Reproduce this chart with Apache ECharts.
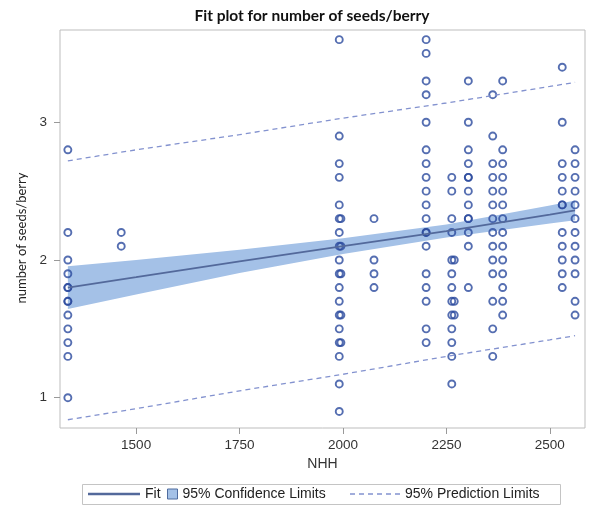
<!DOCTYPE html>
<html>
<head>
<meta charset="utf-8">
<title>Fit plot for number of seeds/berry</title>
<script src="https://cdn.jsdelivr.net/npm/echarts@6/dist/echarts.min.js"></script>
<style>
  html, body { margin: 0; padding: 0; background: #fff; }
  #chart { width: 589px; height: 511px; }
</style>
</head>
<body>
<div id="chart"></div>
<script>
// Observed NHH levels and the seeds/berry counts recorded at each level
const groupNHH = [1335, 1464, 1991, 1995, 2075, 2201, 2263, 2269, 2303, 2362, 2386, 2530, 2561];
const groupSeeds = [
  [2.8, 2.2, 2.0, 1.9, 1.8, 1.8, 1.7, 1.7, 1.6, 1.5, 1.4, 1.3, 1.0],
  [2.2, 2.1],
  [3.6, 2.9, 2.7, 2.6, 2.4, 2.3, 2.2, 2.1, 2.0, 1.9, 1.8, 1.7, 1.6, 1.5, 1.4, 1.3, 1.1, 0.9],
  [2.3, 2.1, 1.9, 1.6, 1.4],
  [2.3, 2.0, 1.9, 1.8],
  [3.6, 3.5, 3.3, 3.2, 3.0, 2.8, 2.7, 2.6, 2.5, 2.4, 2.3, 2.2, 2.2, 2.1, 1.9, 1.8, 1.7, 1.5, 1.4],
  [2.6, 2.5, 2.3, 2.2, 2.0, 1.9, 1.8, 1.7, 1.6, 1.5, 1.4, 1.3, 1.1],
  [2.0, 1.7, 1.6],
  [3.3, 3.0, 2.8, 2.7, 2.6, 2.6, 2.5, 2.4, 2.3, 2.3, 2.2, 2.1, 1.8],
  [3.2, 2.9, 2.7, 2.6, 2.5, 2.4, 2.3, 2.2, 2.1, 2.0, 1.9, 1.7, 1.5, 1.3],
  [3.3, 2.8, 2.7, 2.6, 2.5, 2.4, 2.3, 2.2, 2.1, 2.0, 1.9, 1.8, 1.7, 1.6],
  [3.4, 3.0, 2.7, 2.6, 2.5, 2.4, 2.4, 2.2, 2.1, 2.0, 1.9, 1.8],
  [2.8, 2.7, 2.6, 2.5, 2.4, 2.3, 2.2, 2.1, 2.0, 1.9, 1.7, 1.6]
];

// Regression fit with confidence and prediction limits, sampled along NHH
const curveNHH   = [1335, 1500, 1750, 2000, 2250, 2500, 2561];
const fitValues  = [1.80, 1.875, 1.99, 2.10, 2.21, 2.33, 2.36];
const clUpper    = [1.955, 2.00, 2.075, 2.157, 2.257, 2.395, 2.432];
const clLower    = [1.645, 1.75, 1.905, 2.043, 2.163, 2.265, 2.288];
const plUpper    = [2.72, 2.80, 2.91, 3.03, 3.14, 3.26, 3.29];
const plLower    = [0.84, 0.92, 1.05, 1.17, 1.30, 1.42, 1.45];

// Axis ticks
const xTicks = [1500, 1750, 2000, 2250, 2500];
const yTicks = [1, 2, 3];

const pointColor = '#2a4a9e';
const fitColor = '#53699b';
const bandColor = '#a4c1e7';
const predColor = '#8392cf';

const scatterData = [];
groupNHH.forEach((x, i) => groupSeeds[i].forEach(y => scatterData.push([x, y])));

const zip = (xs, ys) => xs.map((x, i) => [x, ys[i]]);
const bandData = curveNHH.map((x, i) => [x, clLower[i], clUpper[i]]);

const dashIcon = 'path://M0,0h5v1.4h-5z M9,0h5v1.4h-5z M18,0h5v1.4h-5z M27,0h5v1.4h-5z M36,0h5v1.4h-5z M45,0h5v1.4h-5z';

const legendText = { fontFamily: 'Liberation Sans', fontSize: 14, color: '#222' };

const chart = echarts.init(document.getElementById('chart'), null, { renderer: 'canvas' });
chart.setOption({
  animation: false,
  backgroundColor: '#fff',
  title: {
    text: 'Fit plot for number of seeds/berry',
    left: 307,
    textAlign: 'center',
    top: 3,
    textStyle: { fontFamily: 'Lato', fontWeight: 'bold', fontSize: 15.5, color: '#111' }
  },
  grid: {
    left: 60, right: 4, top: 30, bottom: 83,
    show: true, borderColor: '#bdbdbd', borderWidth: 1, backgroundColor: '#fff'
  },
  xAxis: {
    type: 'value',
    min: 1316, max: 2585,
    name: 'NHH',
    nameLocation: 'middle',
    nameGap: 27,
    nameTextStyle: { fontFamily: 'Liberation Sans', fontSize: 14, color: '#333' },
    axisLine: { show: false },
    splitLine: { show: false },
    axisTick: { show: true, customValues: xTicks, length: 6, lineStyle: { color: '#999' } },
    axisLabel: {
      customValues: xTicks, margin: 10, formatter: v => String(v),
      fontFamily: 'Liberation Sans', fontSize: 13.5, color: '#333'
    }
  },
  yAxis: {
    type: 'value',
    min: 0.78, max: 3.67,
    name: 'number of seeds/berry',
    nameLocation: 'middle',
    nameGap: 26,
    nameTextStyle: { fontFamily: 'Lato', fontSize: 13, color: '#222', padding: [0, 18, 0, 0] },
    axisLine: { show: false },
    splitLine: { show: false },
    axisTick: { show: true, customValues: yTicks, length: 6, lineStyle: { color: '#999' } },
    axisLabel: {
      customValues: yTicks, margin: 13, formatter: v => String(v),
      fontFamily: 'Liberation Sans', fontSize: 13.5, color: '#333'
    }
  },
  legend: [
    {
      left: 88, top: 487, padding: 0, selectedMode: false,
      itemWidth: 52, itemHeight: 14, textStyle: legendText,
      data: [{ name: 'Fit', icon: 'path://M0,0H52V2.4H0Z', itemStyle: { color: fitColor } }]
    },
    {
      left: 167, top: 487, padding: 0, selectedMode: false,
      itemWidth: 10, itemHeight: 10, textStyle: legendText,
      data: [{ name: '95% Confidence Limits', icon: 'rect',
               itemStyle: { color: bandColor, borderColor: '#4f6c9f', borderWidth: 1 } }]
    },
    {
      left: 350, top: 487, padding: 0, selectedMode: false,
      itemWidth: 50, itemHeight: 14, textStyle: legendText,
      data: [{ name: '95% Prediction Limits', icon: dashIcon, itemStyle: { color: predColor } }]
    }
  ],
  graphic: [{
    type: 'rect',
    shape: { x: 82.5, y: 484.5, width: 478, height: 20 },
    style: { fill: 'none', stroke: '#c4c4c4', lineWidth: 1 },
    silent: true
  }],
  series: [
    {
      name: '95% Confidence Limits',
      type: 'custom',
      z: 1,
      data: bandData,
      encode: { x: 0, y: [1, 2] },
      renderItem: function (params, api) {
        if (params.dataIndex !== 0) return null;
        const upper = [], lower = [];
        for (let i = 0; i < bandData.length; i++) {
          upper.push(api.coord([bandData[i][0], bandData[i][2]]));
          lower.push(api.coord([bandData[i][0], bandData[i][1]]));
        }
        return {
          type: 'polygon',
          shape: { points: upper.concat(lower.reverse()) },
          style: { fill: bandColor, stroke: 'none' }
        };
      },
      itemStyle: { color: bandColor }
    },
    {
      name: 'Observed',
      type: 'scatter',
      z: 3,
      data: scatterData,
      symbol: 'circle',
      symbolSize: 7,
      itemStyle: { color: 'rgba(255,255,255,0)', borderColor: pointColor, borderWidth: 1.9 }
    },
    {
      name: 'Fit',
      type: 'line',
      z: 4,
      data: zip(curveNHH, fitValues),
      showSymbol: false,
      lineStyle: { color: fitColor, width: 1.8 },
      itemStyle: { color: fitColor }
    },
    {
      name: '95% Prediction Limits',
      type: 'line',
      z: 4,
      data: zip(curveNHH, plUpper),
      showSymbol: false,
      lineStyle: { color: predColor, width: 1.3, type: [5, 4] },
      itemStyle: { color: predColor }
    },
    {
      name: '95% Prediction Limits',
      type: 'line',
      z: 4,
      data: zip(curveNHH, plLower),
      showSymbol: false,
      lineStyle: { color: predColor, width: 1.3, type: [5, 4] },
      itemStyle: { color: predColor }
    }
  ]
});
</script>
</body>
</html>
